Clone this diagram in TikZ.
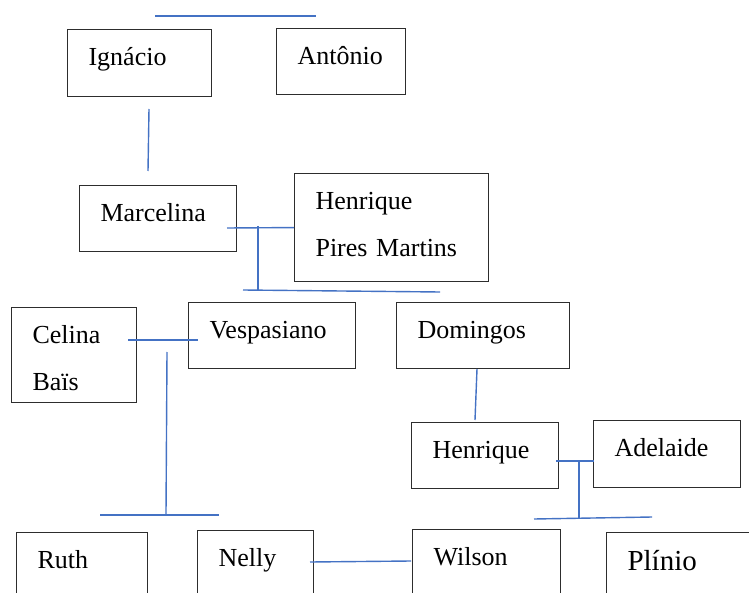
\documentclass[tikz,border=0pt]{standalone}
\usepackage{fontspec}
\setmainfont{Liberation Serif}
\usetikzlibrary{positioning, calc}
\definecolor{linkblue}{RGB}{68,114,196}
\definecolor{boxgray}{RGB}{45,45,45}

\tikzset{
    person/.style 2 args={draw=boxgray, line width=0.55pt, rectangle, anchor=north west, align=left,
        inner xsep=10.5pt, inner ysep=0pt, text height=18pt, text depth={(#2-36)*0.5pt},
        text width={(#1-42)*0.5pt}, font=\fontsize{13}{23.5}\selectfont},
    link/.style={draw=linkblue, line width=0.7pt}
}

\begin{document}
\begin{tikzpicture}[x=0.5pt, y=-0.5pt]
    \useasboundingbox (0,0) rectangle (749,593);
    \clip (0,0) rectangle (749,593);

    % Family boxes
    \node[person={144}{67}] (ign) at (67,29) {Ignácio};
    \node[person={129}{66}] (ant) at (276,28) {Antônio};
    \node[person={157}{66}] (mar) at (79,185) {Marcelina};
    \node[person={194}{108}] (hpm) at (294,173) {Henrique\\Pires Martins};
    \node[person={125}{95}] (cel) at (11,307) {Celina\\Baïs};
    \node[person={167}{66}] (ves) at (188,302) {Vespasiano};
    \node[person={173}{66}] (dom) at (396,302) {Domingos};
    \node[person={147}{66}] (hen) at (411,422) {Henrique};
    \node[person={147}{67}] (ade) at (593,420) {Adelaide};
    \node[person={131}{80}] (ruth) at (16,532) {Ruth};
    \node[person={116}{80}] (nel) at (197,530) {Nelly};
    \node[person={148}{80}] (wil) at (412,529) {Wilson};
    \node[person={150}{80}, font=\fontsize{14.5}{23.5}\selectfont, text height=19pt, text depth=21pt] (pli) at (606,532) {Plínio};

    % Connector ends
    \coordinate (ia-l) at (155,16);
    \coordinate (ia-r) at (316,16);
    \coordinate (ign-d) at (149,109);
    \coordinate (mar-u) at (148,171);
    \coordinate (mar-r) at (227,228);
    \coordinate (mh-u) at (258,226);
    \coordinate (mh-d) at (258,290);
    \coordinate (mh-l) at (243,290);
    \coordinate (mh-r) at (440,292);
    \coordinate (cel-r) at (128,340);
    \coordinate (ves-l) at (198,340);
    \coordinate (cv-u) at (167,352);
    \coordinate (cv-d) at (166,514);
    \coordinate (cv-l) at (100,515);
    \coordinate (cv-r) at (219,515);
    \coordinate (dom-d) at (477,369);
    \coordinate (hen-u) at (475,420);
    \coordinate (hen-r) at (556,461);
    \coordinate (ade-l) at (594,461);
    \coordinate (ha-u) at (579,461);
    \coordinate (ha-d) at (579,519);
    \coordinate (ha-l) at (534,519);
    \coordinate (ha-r) at (652,517);
    \coordinate (nel-r) at (310,562);
    \coordinate (wil-l) at (411,561);

    % Links
    \draw[link] (ia-l) -- (ia-r);
    \draw[link] (ign-d) -- (mar-u);
    \draw[link] (mar-r) -- (hpm.west);
    \draw[link] (mh-u) -- (mh-d);
    \draw[link] (mh-l) -- (mh-r);
    \draw[link] (cel-r) -- (ves-l);
    \draw[link] (cv-u) -- (cv-d);
    \draw[link] (cv-l) -- (cv-r);
    \draw[link] (dom-d) -- (hen-u);
    \draw[link] (hen-r) -- (ade-l);
    \draw[link] (ha-u) -- (ha-d);
    \draw[link] (ha-l) -- (ha-r);
    \draw[link] (nel-r) -- (wil-l);
\end{tikzpicture}
\end{document}
